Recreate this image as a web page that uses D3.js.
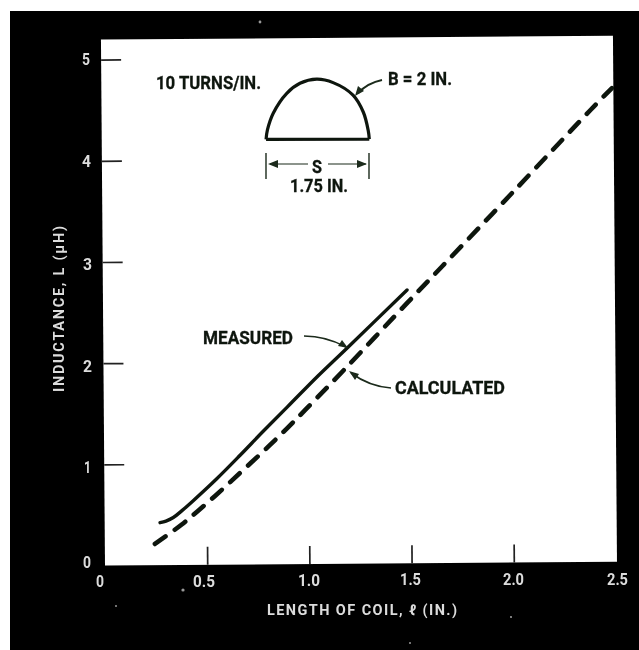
<!DOCTYPE html>
<html><head><meta charset="utf-8">
<script src="https://cdn.jsdelivr.net/npm/d3@7"></script>
<style>
html,body{margin:0;padding:0;background:#fff}
svg{display:block}
text{font-family:"Roboto","Liberation Sans",sans-serif;font-weight:700}
</style></head><body><svg id="c" width="639" height="650"></svg>
<script>
const xTicks=[0.5,1.0,1.5,2.0];
const yTicks=[1,2,3,4,5];
const xTickLabels=["0","0.5","1.0","1.5","2.0","2.5"];
const yTickLabels=["0","1","2","3","4","5"];
const measuredX=[0.271,0.30,0.336,0.38,0.434,0.55,0.665,0.779,0.911,1.05,1.197,1.488];
const measuredY=[0.42,0.435,0.47,0.54,0.635,0.85,1.08,1.315,1.58,1.86,2.14,2.70];
const calculatedX=[0.245,0.377,0.458,0.541,0.626,0.718,0.812,0.902,0.989,1.181,1.492,1.66,2.01,2.39,2.498];
const calculatedY=[0.21,0.40,0.535,0.68,0.835,1.005,1.18,1.355,1.53,1.925,2.58,2.93,3.66,4.46,4.68];
const coilX=[0.804,0.811,0.84,0.907,0.972,1.054,1.134,1.231,1.281,1.304,1.309];
const coilY=[4.20,4.292,4.457,4.653,4.751,4.79,4.755,4.63,4.46,4.28,4.193];

const svg=d3.select("#c");
const defs=svg.append("defs");
defs.append("filter").attr("id","scan").attr("x",0).attr("y",0).attr("width","100%").attr("height","100%")
  .append("feGaussianBlur").attr("stdDeviation",0.55);
const root=svg.append("g").attr("filter","url(#scan)");
root.append("rect").attr("width",639).attr("height",650).attr("fill","#fff");
root.append("rect").attr("x",10).attr("y",11).attr("width",629).attr("height",639).attr("fill","#020202");

const x=d3.scaleLinear().domain([0,2.5]).range([0,511]);
const y=d3.scaleLinear().domain([0,5]).range([0,-506]);
const ink="#101510", pale="#dcdcdc";

const plot=root.append("g").attr("transform","translate(105,565.6) rotate(-0.44)");
plot.append("rect").attr("x",x(0)).attr("y",y(5)-20).attr("width",x(2.5)+1).attr("height",-y(5)+20).attr("fill","#fff");

const xAxis=plot.append("g").call(d3.axisBottom(x).tickValues(xTicks).tickSize(-18).tickFormat(""));
const yAxis=plot.append("g").call(d3.axisLeft(y).tickValues(yTicks).tickSize(-20).tickFormat(""));
[xAxis,yAxis].forEach(a=>{a.select(".domain").remove();a.selectAll("line").attr("stroke","#222").attr("stroke-width",1.7);});

const line=d3.line().x(d=>x(d[0])).y(d=>y(d[1])).curve(d3.curveCatmullRom.alpha(0.5));
plot.append("path").datum(d3.zip(measuredX,measuredY)).attr("d",line)
 .attr("fill","none").attr("stroke",ink).attr("stroke-width",3.4).attr("stroke-linecap","round");
plot.append("path").datum(d3.zip(calculatedX,calculatedY)).attr("d",line)
 .attr("fill","none").attr("stroke",ink).attr("stroke-width",4.6).attr("stroke-linecap","round").attr("stroke-dasharray","13 11.4");

const coil=d3.zip(coilX,coilY);
plot.append("path").datum(coil).attr("d",line).attr("fill","none").attr("stroke",ink).attr("stroke-width",3.2);
plot.append("line").attr("x1",x(coilX[0])).attr("y1",y(coilY[0])).attr("x2",x(coilX[10])).attr("y2",y(coilY[10])).attr("stroke",ink).attr("stroke-width",3.2);

function put(g,s,px,py,w,size,fill,adjust){
  return g.append("text").attr("x",px).attr("y",py).attr("textLength",w).attr("lengthAdjust",adjust||"spacingAndGlyphs")
    .attr("font-size",size).attr("fill",fill).text(s);
}
const lab=root.append("g");
const xLabelL=[96,193,298,400,503,607], xLabelB=[587,587,586,585,585,585], xLabelW=[8,22,22,21,21,21];
xTickLabels.forEach((s,i)=>put(lab,s,xLabelL[i],xLabelB[i],xLabelW[i],16,pale));
const yLabelL=[83,84,83,83,82,82], yLabelB=[568,473,372,270,167,65], yLabelW=[8,7,9,9,9,8];
yTickLabels.forEach((s,i)=>put(lab,s,yLabelL[i],yLabelB[i],yLabelW[i],17,pale));

put(lab,"LENGTH OF COIL, ℓ (IN.)",267,615,190,14.5,pale,"spacing").attr("font-weight",500);
lab.append("text").attr("transform","translate(64,392) rotate(-90)").attr("textLength",166).attr("lengthAdjust","spacing")
  .attr("font-size",14.5).attr("font-weight",500).attr("fill",pale).text("INDUCTANCE, L (μH)");

const ann=root.append("g").attr("stroke",ink).attr("stroke-width",0.3);
[["10 TURNS/IN.",156,89,105],["B = 2 IN.",388,85,64],["S",312,173,10],["1.75 IN.",290,192,58],["MEASURED",203,344,90],["CALCULATED",395,394,110]]
 .forEach(t=>put(ann,t[0],t[1],t[2],t[3],17.5,ink));

const lead=root.append("g").attr("fill","none").attr("stroke","#1a2a1a");
lead.append("path").attr("d","M304,336 C320,336 335,341 346,347").attr("stroke-width",1.6);
lead.append("path").attr("d","M391,388 C375,387 362,381 351,373").attr("stroke-width",1.6);
lead.append("path").attr("d","M382,80 C372,82 364,87 358,93").attr("stroke-width",2);
lead.append("path").attr("d","M266,153V179M369,153V179").attr("stroke-width",1.4);
lead.append("path").attr("d","M270,164H308M328,164H366").attr("stroke-width",1.1);
const heads=root.append("g").attr("fill","#1a2a1a");
heads.append("path").attr("d","M268,164L278,160V168Z");
heads.append("path").attr("d","M367,164L357,160V168Z");
heads.append("path").attr("d","M348,348L338,346L342,340Z");
heads.append("path").attr("d","M349,371L359,374L355,380Z");
heads.append("path").attr("d","M355,96L358,86L364,91Z");

// scan specks on the black frame
const speckPx=[260,183,410,511,116], speckPy=[22,590,643,617,606], speckR=[1.4,1.6,1,1.1,1];
root.append("g").selectAll("circle").data(speckR).join("circle")
  .attr("cx",(d,i)=>speckPx[i]).attr("cy",(d,i)=>speckPy[i]).attr("r",d=>d).attr("fill","#999");
</script></body></html>
